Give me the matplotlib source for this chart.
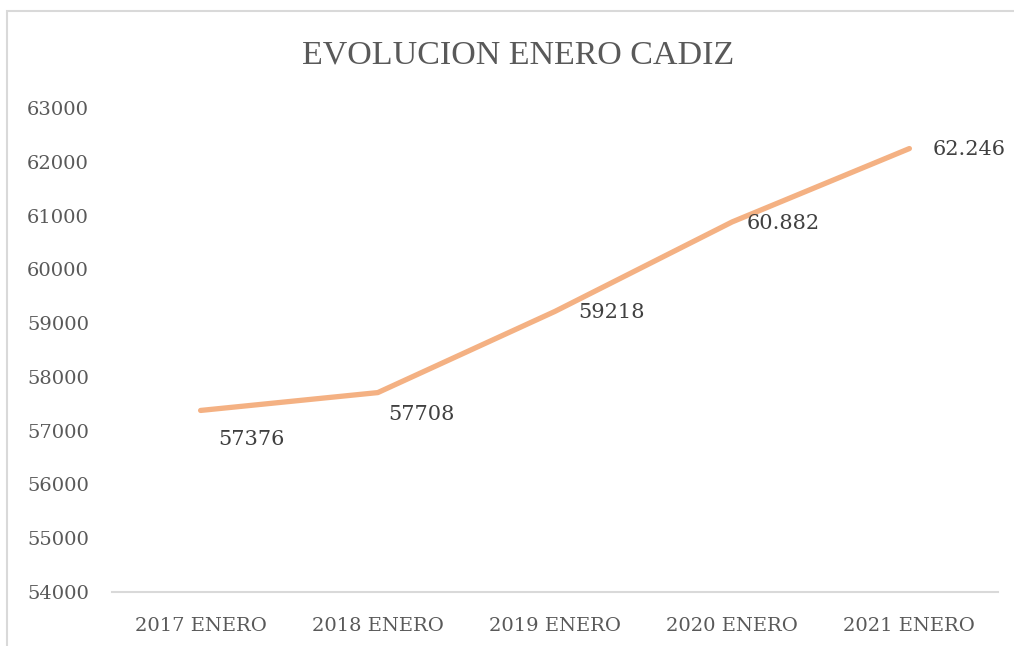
import matplotlib
matplotlib.use("Agg")
import matplotlib.pyplot as plt
from matplotlib.patches import Rectangle

categories = ["2017 ENERO", "2018 ENERO", "2019 ENERO", "2020 ENERO", "2021 ENERO"]
values = [57376, 57708, 59218, 60882, 62246]
labels = ["57376", "57708", "59218", "60.882", "62.246"]
yticks = [54000, 55000, 56000, 57000, 58000, 59000, 60000, 61000, 62000, 63000]

W, H = 1014, 646
fig = plt.figure(figsize=(W / 100, H / 100), dpi=100)
fig.patch.set_facecolor("white")
plt.rcParams["font.family"] = ["DejaVu Serif"]

# chart border
fig.add_artist(Rectangle((7 / W, -0.1), 1.2, (H - 11) / H + 0.1, transform=fig.transFigure,
                         fill=False, edgecolor="#d9d9d9", linewidth=1.5))

ax = fig.add_axes([112 / W, 1 - 592 / H, (998 - 112) / W, (592 - 108) / H])
x = list(range(len(categories)))
ax.plot(x, values, color="#F4B183", linewidth=3.8, solid_capstyle="round", solid_joinstyle="round")
ax.set_xlim(-0.5, len(categories) - 0.5)
ax.set_ylim(54000, 63000)
ax.set_yticks(yticks)
ax.set_yticklabels([str(v) for v in yticks])
ax.set_xticks(x)
ax.set_xticklabels(categories)
for s in ["top", "right", "left"]:
    ax.spines[s].set_visible(False)
ax.spines["bottom"].set_color("#d9d9d9")
ax.spines["bottom"].set_linewidth(1.5)
ax.tick_params(axis="both", length=0, colors="#595959", labelsize=14)
ax.tick_params(axis="y", pad=16.5)
ax.tick_params(axis="x", pad=18)

offsets = [(49, -28), (42, -21), (55, 0), (50, 0), (58, 0)]
for xi, v, lab, (dx, dy) in zip(x, values, labels, offsets):
    ax.annotate(lab, (xi, v), xytext=(dx * 0.72 + 1, dy * 0.72 - 1), textcoords="offset points",
                ha="center", va="center", fontsize=15, color="#404040")

fig.text(518 / W, 1 - 55 / H, "EVOLUCION ENERO CADIZ", ha="center", va="center",
         fontsize=24.5, color="#595959", family=["Liberation Serif", "DejaVu Serif"])

fig.savefig("out.png", dpi=100)
